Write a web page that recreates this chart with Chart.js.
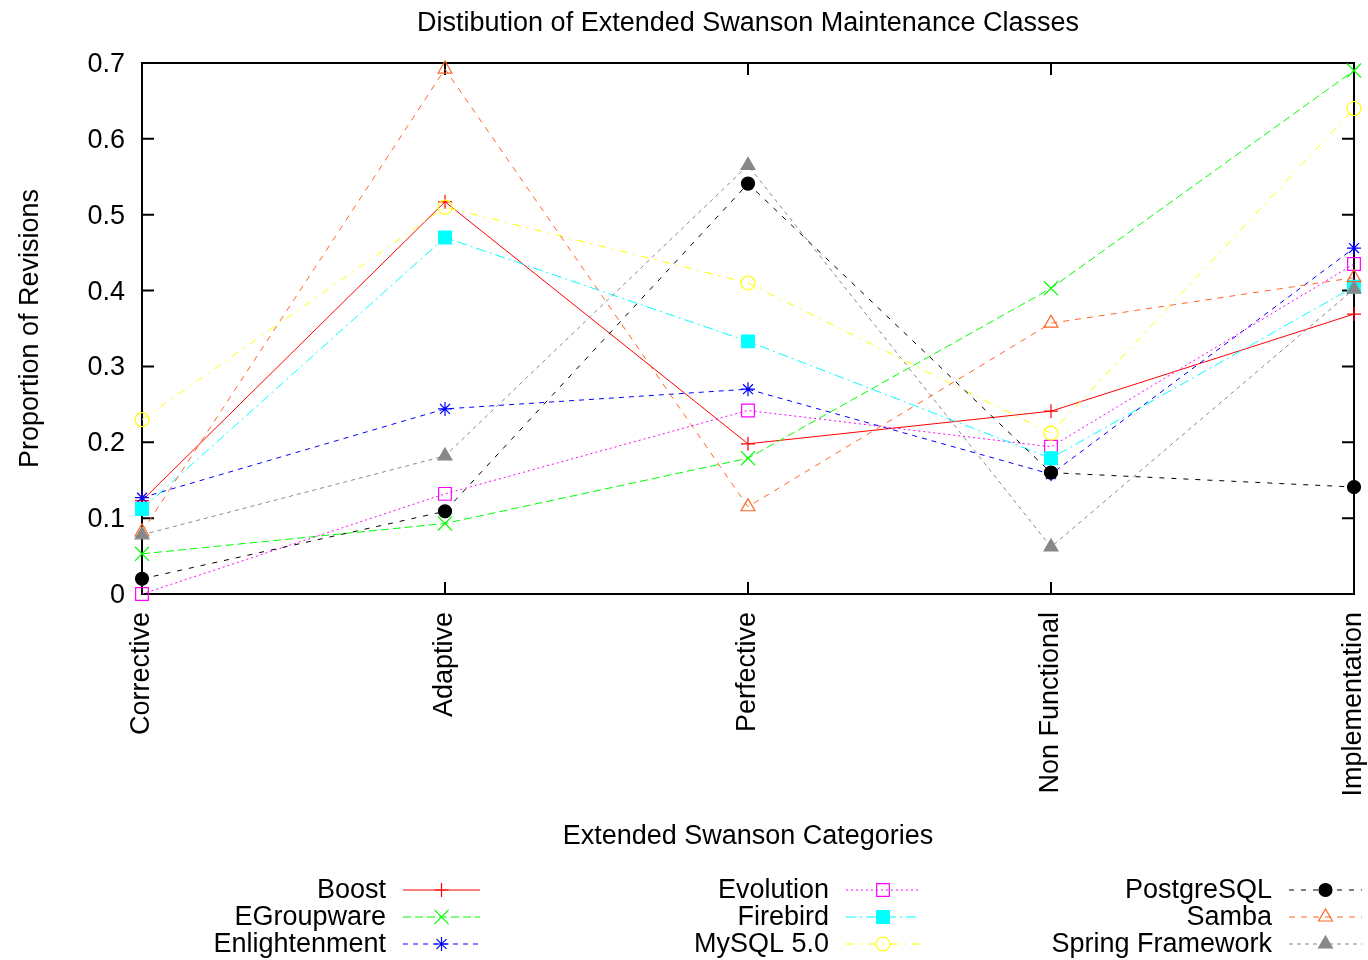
<!DOCTYPE html>
<html><head><meta charset="utf-8">
<script src="https://cdn.jsdelivr.net/npm/chart.js@4.4.1/dist/chart.umd.min.js"></script>
<style>html,body{margin:0;padding:0;background:#fff}#wrap{width:1368px;height:960px;position:relative}</style>
</head><body><div id="wrap"><canvas id="c"></canvas></div>
<script>
// ---- data ----
const categories = ['Corrective', 'Adaptive', 'Perfective', 'Non Functional', 'Implementation'];
const seriesNames = ['Boost', 'EGroupware', 'Enlightenment', 'Evolution', 'Firebird', 'MySQL 5.0', 'PostgreSQL', 'Samba', 'Spring Framework'];
const boost         = [0.123, 0.517, 0.198, 0.241, 0.369];
const egroupware    = [0.053, 0.093, 0.179, 0.403, 0.690];
const enlightenment = [0.127, 0.244, 0.270, 0.158, 0.456];
const evolution     = [0.000, 0.132, 0.242, 0.194, 0.435];
const firebird      = [0.112, 0.470, 0.333, 0.179, 0.405];
const mysql         = [0.230, 0.510, 0.410, 0.212, 0.640];
const postgresql    = [0.020, 0.109, 0.541, 0.160, 0.141];
const samba         = [0.082, 0.692, 0.115, 0.357, 0.417];
const spring        = [0.078, 0.182, 0.565, 0.062, 0.402];
const yTickValues   = [0, 0.1, 0.2, 0.3, 0.4, 0.5, 0.6, 0.7];
const titleText  = 'Distibution of Extended Swanson Maintenance Classes';
const xTitleText = 'Extended Swanson Categories';
const yTitleText = 'Proportion of Revisions';

// ---- styles ----
const FONT = 'Liberation Sans, Arial, Helvetica, sans-serif';
const FS = 27;
const styles = [
  {color:'#ff0000', dash:[],          ps:'cross',    r:7,   fill:false},
  {color:'#00ff00', dash:[8,4],       ps:'crossRot', r:10,  fill:false},
  {color:'#0000ff', dash:[5,5],       ps:'star',     r:7,   fill:false},
  {color:'#ff00ff', dash:[2,3],       ps:'rect',     r:9,   fill:false},
  {color:'#00ffff', dash:[10,4,2,4],  ps:'rect',     r:9,   fill:true},
  {color:'#ffff00', dash:[8,6,2,6],   ps:'circle',   r:7,   fill:false},
  {color:'#000000', dash:[5,7],       ps:'circle',   r:6.5, fill:true},
  {color:'#ff6428', dash:[6,6],       ps:'triangle', r:8,   fill:false},
  {color:'#888888', dash:[4,4],       ps:'triangle', r:8,   fill:true}
];
const seriesData = [boost, egroupware, enlightenment, evolution, firebird, mysql, postgresql, samba, spring];

const datasets = seriesData.map((d, i) => ({
  label: seriesNames[i],
  data: d,
  borderColor: styles[i].color,
  backgroundColor: styles[i].color,
  borderWidth: 1,
  borderDash: styles[i].dash,
  pointStyle: styles[i].ps,
  pointRadius: styles[i].r,
  pointHoverRadius: styles[i].r,
  pointBorderWidth: 1.2,
  pointBorderColor: styles[i].color,
  pointBackgroundColor: styles[i].fill ? styles[i].color : 'rgba(0,0,0,0)',
  tension: 0,
  fill: false,
  clip: false,
  order: seriesData.length - i
}));

function drawMarker(ctx, st, x, y) {
  ctx.save();
  ctx.setLineDash([]);
  ctx.lineWidth = 1.2;
  ctx.strokeStyle = st.color;
  ctx.fillStyle = st.fill ? st.color : 'rgba(0,0,0,0)';
  if (Chart.helpers && Chart.helpers.drawPoint) {
    Chart.helpers.drawPoint(ctx, {pointStyle: st.ps, radius: st.r, rotation: 0, borderWidth: 1.2}, x, y);
  }
  ctx.restore();
}

const framePlugin = {
  id: 'frame',
  beforeDatasetsDraw(chart) {
    const ctx = chart.ctx, a = chart.chartArea;
    const xs = chart.scales.x, ys = chart.scales.y;
    ctx.save();
    ctx.strokeStyle = '#000';
    ctx.lineWidth = 2;
    ctx.setLineDash([]);
    ctx.strokeRect(a.left, a.top, a.right - a.left, a.bottom - a.top);
    ctx.beginPath();
    const tl = 12;
    yTickValues.forEach(v => {
      const py = ys.getPixelForValue(v);
      ctx.moveTo(a.left, py); ctx.lineTo(a.left + tl, py);
      ctx.moveTo(a.right, py); ctx.lineTo(a.right - tl, py);
    });
    categories.forEach((c, i) => {
      const px = xs.getPixelForValue(i);
      ctx.moveTo(px, a.bottom); ctx.lineTo(px, a.bottom - tl);
      ctx.moveTo(px, a.top); ctx.lineTo(px, a.top + tl);
    });
    ctx.stroke();
    ctx.restore();
  },
  afterDraw(chart) {
    const ctx = chart.ctx, a = chart.chartArea;
    const cx = (a.left + a.right) / 2;
    ctx.save();
    ctx.fillStyle = '#000';
    ctx.font = FS + 'px ' + FONT;
    ctx.textAlign = 'center';
    ctx.textBaseline = 'middle';
    ctx.fillText(titleText, cx, 24);
    ctx.fillText(xTitleText, cx, 837);
    ctx.save();
    ctx.translate(31, (a.top + a.bottom) / 2);
    ctx.rotate(-Math.PI / 2);
    ctx.fillText(yTitleText, 0, 0);
    ctx.restore();
    // legend
    const cols = [{t:386, l:403, r:480}, {t:829, l:846, r:920}, {t:1272, l:1289, r:1362}];
    const rows = [891, 918, 945];
    chart.data.datasets.forEach((ds, i) => {
      const c = cols[Math.floor(i / 3)], y = rows[i % 3];
      const st = styles[i];
      ctx.fillStyle = '#000';
      ctx.textAlign = 'right';
      ctx.fillText(ds.label, c.t, y);
      ctx.save();
      ctx.strokeStyle = st.color;
      ctx.lineWidth = 1;
      ctx.setLineDash(st.dash);
      ctx.beginPath();
      ctx.moveTo(c.l, y - 1); ctx.lineTo(c.r, y - 1);
      ctx.stroke();
      ctx.restore();
      drawMarker(ctx, st, (c.l + c.r) / 2, y - 1);
    });
    ctx.restore();
  }
};

new Chart(document.getElementById('c'), {
  type: 'line',
  data: { labels: categories, datasets: datasets },
  options: {
    responsive: true,
    maintainAspectRatio: false,
    animation: false,
    events: [],
    layout: { padding: { left: 0, right: 14, top: 63, bottom: 166 } },
    plugins: { legend: { display: false }, title: { display: false }, tooltip: { enabled: false } },
    scales: {
      x: {
        type: 'category',
        offset: false,
        grid: { display: false, drawTicks: false },
        border: { display: false },
        ticks: { autoSkip: false, minRotation: 90, maxRotation: 90, padding: 18, color: '#000',
                 font: { family: FONT, size: FS } },
        afterFit(s) { s.height = 200; s.paddingLeft = 0; s.paddingRight = 0; }
      },
      y: {
        type: 'linear',
        min: 0, max: 0.7,
        grid: { display: false, drawTicks: false },
        border: { display: false },
        afterBuildTicks(s) { s.ticks = yTickValues.map(v => ({ value: v })); },
        ticks: { padding: 17, labelOffset: 1.5, color: '#000', font: { family: FONT, size: FS },
                 callback: v => (v === 0 ? '0' : v.toFixed(1)) },
        afterFit(s) { s.width = 142; s.paddingTop = 0; s.paddingBottom = 0; }
      }
    }
  },
  plugins: [framePlugin]
});
</script>
</body></html>
